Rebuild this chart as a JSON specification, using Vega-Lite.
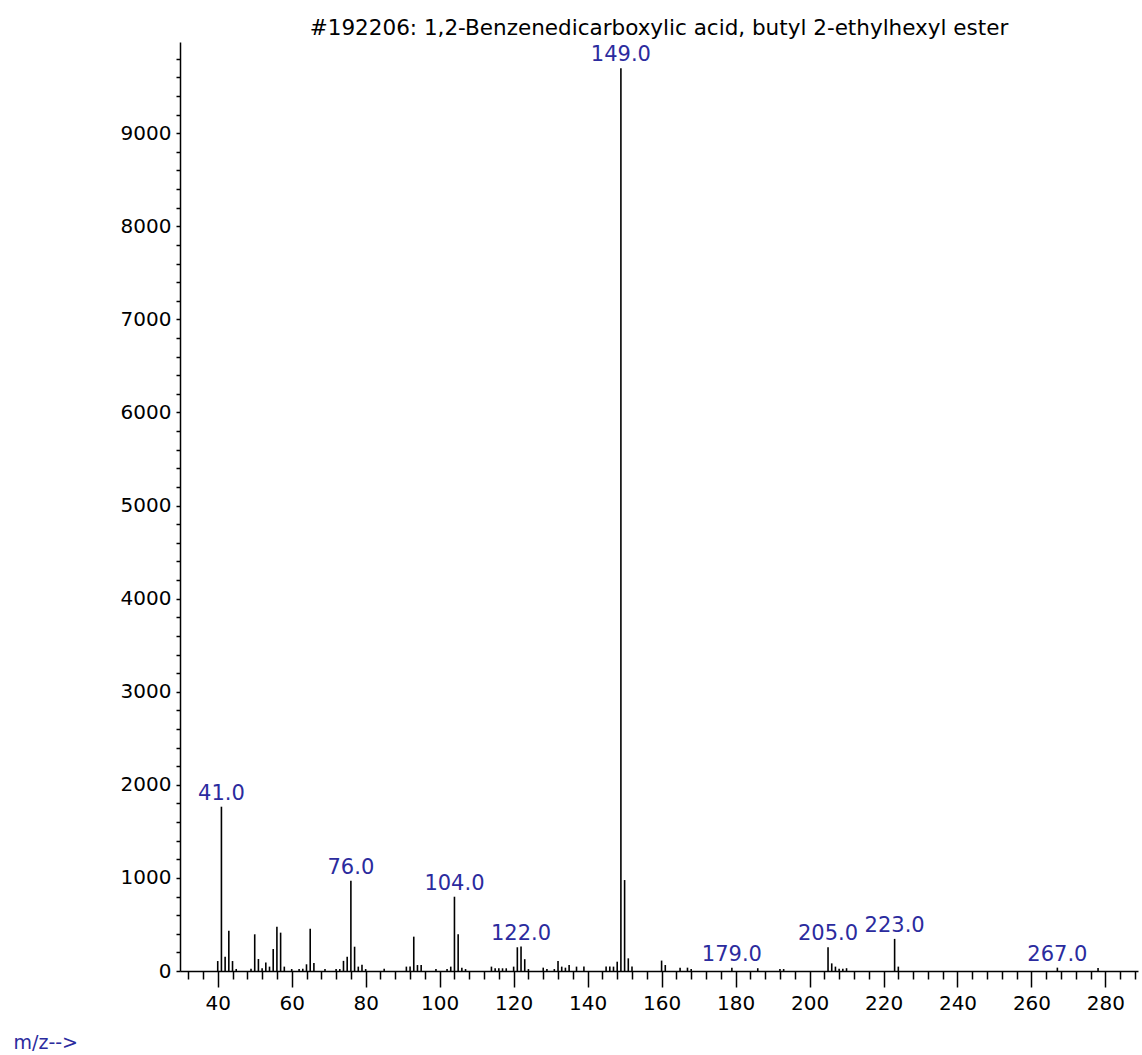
{
  "$schema": "https://vega.github.io/schema/vega-lite/v6.json",
  "width": 958,
  "height": 929,
  "autosize": "none",
  "padding": {"left": 180, "top": 42, "right": 4, "bottom": 84},
  "background": "white",
  "title": {
    "text": "#192206: 1,2-Benzenedicarboxylic acid, butyl 2-ethylhexyl ester",
    "anchor": "middle",
    "font": "DejaVu Sans",
    "fontSize": 21.5,
    "fontWeight": "normal",
    "color": "black",
    "baseline": "alphabetic",
    "offset": 7,
    "dy": 21
  },
  "config": {
    "view": {"stroke": null},
    "axis": {
      "grid": false,
      "domainColor": "black",
      "domainWidth": 1.5,
      "tickColor": "black",
      "tickWidth": 1.5,
      "labelColor": "black",
      "labelFont": "DejaVu Sans",
      "labelFontSize": 20,
      "labelOverlap": false,
      "labelBound": false,
      "labelFlush": false
    }
  },
  "data": {
    "values": [
      {"mz": 40, "intensity": 107, "labeled": false},
      {"mz": 41, "intensity": 1765, "labeled": true},
      {"mz": 42, "intensity": 154, "labeled": false},
      {"mz": 43, "intensity": 433, "labeled": false},
      {"mz": 44, "intensity": 107, "labeled": false},
      {"mz": 45, "intensity": 22, "labeled": false},
      {"mz": 49, "intensity": 25, "labeled": false},
      {"mz": 50, "intensity": 394, "labeled": false},
      {"mz": 51, "intensity": 129, "labeled": false},
      {"mz": 52, "intensity": 29, "labeled": false},
      {"mz": 53, "intensity": 90, "labeled": false},
      {"mz": 54, "intensity": 47, "labeled": false},
      {"mz": 55, "intensity": 236, "labeled": false},
      {"mz": 56, "intensity": 476, "labeled": false},
      {"mz": 57, "intensity": 412, "labeled": false},
      {"mz": 58, "intensity": 47, "labeled": false},
      {"mz": 60, "intensity": 21, "labeled": false},
      {"mz": 62, "intensity": 21, "labeled": false},
      {"mz": 63, "intensity": 25, "labeled": false},
      {"mz": 64, "intensity": 72, "labeled": false},
      {"mz": 65, "intensity": 455, "labeled": false},
      {"mz": 66, "intensity": 85, "labeled": false},
      {"mz": 69, "intensity": 21, "labeled": false},
      {"mz": 72, "intensity": 21, "labeled": false},
      {"mz": 73, "intensity": 21, "labeled": false},
      {"mz": 74, "intensity": 109, "labeled": false},
      {"mz": 75, "intensity": 154, "labeled": false},
      {"mz": 76, "intensity": 970, "labeled": true},
      {"mz": 77, "intensity": 261, "labeled": false},
      {"mz": 78, "intensity": 47, "labeled": false},
      {"mz": 79, "intensity": 68, "labeled": false},
      {"mz": 80, "intensity": 21, "labeled": false},
      {"mz": 85, "intensity": 25, "labeled": false},
      {"mz": 91, "intensity": 47, "labeled": false},
      {"mz": 92, "intensity": 47, "labeled": false},
      {"mz": 93, "intensity": 369, "labeled": false},
      {"mz": 94, "intensity": 64, "labeled": false},
      {"mz": 95, "intensity": 64, "labeled": false},
      {"mz": 99, "intensity": 21, "labeled": false},
      {"mz": 102, "intensity": 21, "labeled": false},
      {"mz": 103, "intensity": 47, "labeled": false},
      {"mz": 104, "intensity": 798, "labeled": true},
      {"mz": 105, "intensity": 394, "labeled": false},
      {"mz": 106, "intensity": 36, "labeled": false},
      {"mz": 107, "intensity": 21, "labeled": false},
      {"mz": 114, "intensity": 47, "labeled": false},
      {"mz": 115, "intensity": 29, "labeled": false},
      {"mz": 116, "intensity": 29, "labeled": false},
      {"mz": 117, "intensity": 29, "labeled": false},
      {"mz": 118, "intensity": 29, "labeled": false},
      {"mz": 120, "intensity": 47, "labeled": false},
      {"mz": 121, "intensity": 255, "labeled": false},
      {"mz": 122, "intensity": 262, "labeled": true},
      {"mz": 123, "intensity": 127, "labeled": false},
      {"mz": 124, "intensity": 21, "labeled": false},
      {"mz": 128, "intensity": 36, "labeled": false},
      {"mz": 129, "intensity": 21, "labeled": false},
      {"mz": 131, "intensity": 21, "labeled": false},
      {"mz": 132, "intensity": 107, "labeled": false},
      {"mz": 133, "intensity": 47, "labeled": false},
      {"mz": 134, "intensity": 36, "labeled": false},
      {"mz": 135, "intensity": 64, "labeled": false},
      {"mz": 137, "intensity": 47, "labeled": false},
      {"mz": 139, "intensity": 47, "labeled": false},
      {"mz": 145, "intensity": 47, "labeled": false},
      {"mz": 146, "intensity": 47, "labeled": false},
      {"mz": 147, "intensity": 47, "labeled": false},
      {"mz": 148, "intensity": 100, "labeled": false},
      {"mz": 149, "intensity": 9699, "labeled": true},
      {"mz": 150, "intensity": 977, "labeled": false},
      {"mz": 151, "intensity": 136, "labeled": false},
      {"mz": 152, "intensity": 47, "labeled": false},
      {"mz": 160, "intensity": 112, "labeled": false},
      {"mz": 161, "intensity": 64, "labeled": false},
      {"mz": 165, "intensity": 36, "labeled": false},
      {"mz": 167, "intensity": 36, "labeled": false},
      {"mz": 168, "intensity": 21, "labeled": false},
      {"mz": 179, "intensity": 36, "labeled": true},
      {"mz": 186, "intensity": 30, "labeled": false},
      {"mz": 192, "intensity": 21, "labeled": false},
      {"mz": 193, "intensity": 21, "labeled": false},
      {"mz": 205, "intensity": 255, "labeled": true},
      {"mz": 206, "intensity": 82, "labeled": false},
      {"mz": 207, "intensity": 47, "labeled": false},
      {"mz": 208, "intensity": 25, "labeled": false},
      {"mz": 209, "intensity": 25, "labeled": false},
      {"mz": 210, "intensity": 30, "labeled": false},
      {"mz": 223, "intensity": 345, "labeled": true},
      {"mz": 224, "intensity": 47, "labeled": false},
      {"mz": 267, "intensity": 36, "labeled": true},
      {"mz": 278, "intensity": 32, "labeled": false}
    ]
  },
  "encoding": {
    "x": {
      "field": "mz",
      "type": "quantitative",
      "scale": {"domain": [29.8, 288.8], "nice": false, "zero": false},
      "axis": {
        "title": "m/z-->",
        "titleFont": "DejaVu Sans",
        "titleFontSize": 19,
        "titleFontWeight": "normal",
        "titleColor": "#2B2B9E",
        "titleAlign": "left",
        "titleBaseline": "middle",
        "titleAnchor": "start",
        "titleX": -167,
        "titleY": 71,
        "values": [32, 36, 40, 44, 48, 52, 56, 60, 64, 68, 72, 76, 80, 84, 88, 92, 96, 100, 104, 108, 112, 116, 120, 124, 128, 132, 136, 140, 144, 148, 152, 156, 160, 164, 168, 172, 176, 180, 184, 188, 192, 196, 200, 204, 208, 212, 216, 220, 224, 228, 232, 236, 240, 244, 248, 252, 256, 260, 264, 268, 272, 276, 280, 284, 288],
        "labelExpr": "datum.value % 20 === 0 ? datum.label : ''",
        "tickSize": {"condition": {"test": "datum.value % 20 === 0", "value": 16}, "value": 8},
        "labelPadding": 6
      }
    },
    "y": {
      "field": "intensity",
      "type": "quantitative",
      "scale": {"domain": [0, 9980], "nice": false},
      "axis": {
        "title": null,
        "format": "d",
        "values": [0, 200, 400, 600, 800, 1000, 1200, 1400, 1600, 1800, 2000, 2200, 2400, 2600, 2800, 3000, 3200, 3400, 3600, 3800, 4000, 4200, 4400, 4600, 4800, 5000, 5200, 5400, 5600, 5800, 6000, 6200, 6400, 6600, 6800, 7000, 7200, 7400, 7600, 7800, 8000, 8200, 8400, 8600, 8800, 9000, 9200, 9400, 9600, 9800],
        "labelExpr": "datum.value % 1000 === 0 ? datum.label : ''",
        "tickSize": 4,
        "labelPadding": 5
      }
    }
  },
  "layer": [
    {
      "mark": {"type": "rule", "color": "black", "strokeWidth": 1.6},
      "encoding": {"y2": {"datum": 0}}
    },
    {
      "transform": [{"filter": "datum.labeled"}],
      "mark": {"type": "text", "font": "DejaVu Sans", "fontSize": 21, "color": "#2B2B9E", "align": "center", "baseline": "alphabetic", "dy": -7},
      "encoding": {"text": {"field": "mz", "type": "quantitative", "format": ".1f"}}
    }
  ]
}
